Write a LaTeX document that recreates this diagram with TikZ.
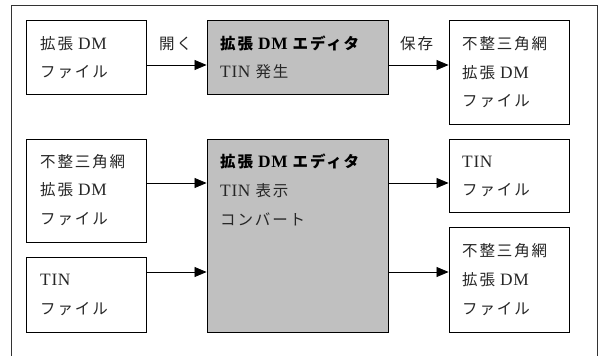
\documentclass[tikz,border=0pt]{standalone}
\usepackage{fontspec}
\setmainfont{Liberation Serif}[LetterSpace=4,Scale=1.12]
\newfontfamily\jpf{Noto Sans CJK JP}[LetterSpace=12]
\newcommand\J[1]{{\jpf #1}}
\usetikzlibrary{arrows.meta}
\definecolor{boxgray}{RGB}{192,192,192}
\begin{document}
\begin{tikzpicture}[x=1pt,y=-1pt,
  box/.style={draw=black, line width=0.9pt, fill=white, inner sep=0pt, minimum width=120pt},
  gbox/.style={draw=black, line width=0.9pt, fill=boxgray, inner sep=0pt, minimum width=181pt},
  txt/.style={anchor=base west, inner sep=0pt, text=black!85, font=\fontsize{15.5}{16}\selectfont},
  btxt/.style={txt, text=black, font=\fontsize{15.5}{16}\selectfont\bfseries},
  arr/.style={line width=0.8pt, -{Triangle[length=12pt,width=10pt]}}]
\useasboundingbox (0,0) rectangle (603,356);
\clip (0,0) rectangle (603,356);
\draw[line width=1pt, black!80] (11,5) rectangle (597.5,372);
% boxes
\node[box, minimum height=74pt] (A) at (86,57) {};
\node[gbox, minimum height=74pt] (G1) at (297.5,57) {};
\node[box, minimum height=104pt] (B) at (509,72) {};
\node[box, minimum height=103pt] (C) at (86,190.5) {};
\node[box, minimum height=75pt] (D) at (86,294.5) {};
\node[gbox, minimum height=193pt] (G2) at (297.5,235.5) {};
\node[box, minimum height=73pt] (E) at (509,175.5) {};
\node[box, minimum height=105pt] (F) at (509,279.5) {};
% texts
\node[txt] (a1) at (40,49) {\J{拡張} DM};
\node[txt] (a2) at (40,77) {\J{ファイル}};
\node[btxt] (g11) at (220,49) {\J{拡張} DM \J{エディタ}};
\node[txt] (g12) at (220,77) {TIN \J{発生}};
\node[txt] (b1) at (462,49) {\J{不整三角網}};
\node[txt] (b2) at (462,78) {\J{拡張} DM};
\node[txt] (b3) at (462,106) {\J{ファイル}};
\node[txt] (c1) at (40,167) {\J{不整三角網}};
\node[txt] (c2) at (40,195) {\J{拡張} DM};
\node[txt] (c3) at (40,224) {\J{ファイル}};
\node[btxt] (g21) at (220,167) {\J{拡張} DM \J{エディタ}};
\node[txt] (g22) at (220,196) {TIN \J{表示}};
\node[txt] (g23) at (220,225) {\J{コンバート}};
\node[txt] (d1) at (40,285) {TIN};
\node[txt] (d2) at (40,314) {\J{ファイル}};
\node[txt] (e1) at (462,167) {TIN};
\node[txt] (e2) at (462,195) {\J{ファイル}};
\node[txt] (f1) at (462,256) {\J{不整三角網}};
\node[txt] (f2) at (462,285) {\J{拡張} DM};
\node[txt] (f3) at (462,314) {\J{ファイル}};
\node[txt] (l1) at (159,49) {\J{開く}};
\node[txt] (l2) at (400,49) {\J{保存}};
% arrows
\draw[arr] ([yshift=-8pt]A.east) -- ([yshift=-8pt]G1.west);
\draw[arr] ([yshift=-8pt]G1.east) -- ([yshift=-8pt]G1.east -| B.west);
\draw[arr] ([yshift=7.5pt]C.east) -- ([yshift=7.5pt]C.east -| G2.west);
\draw[arr] ([yshift=22.5pt]D.east) -- ([yshift=22.5pt]D.east -| G2.west);
\draw[arr] ([yshift=-7.5pt]E.west -| G2.east) -- ([yshift=-7.5pt]E.west);
\draw[arr] ([yshift=7.5pt]F.west -| G2.east) -- ([yshift=7.5pt]F.west);
\end{tikzpicture}
\end{document}
